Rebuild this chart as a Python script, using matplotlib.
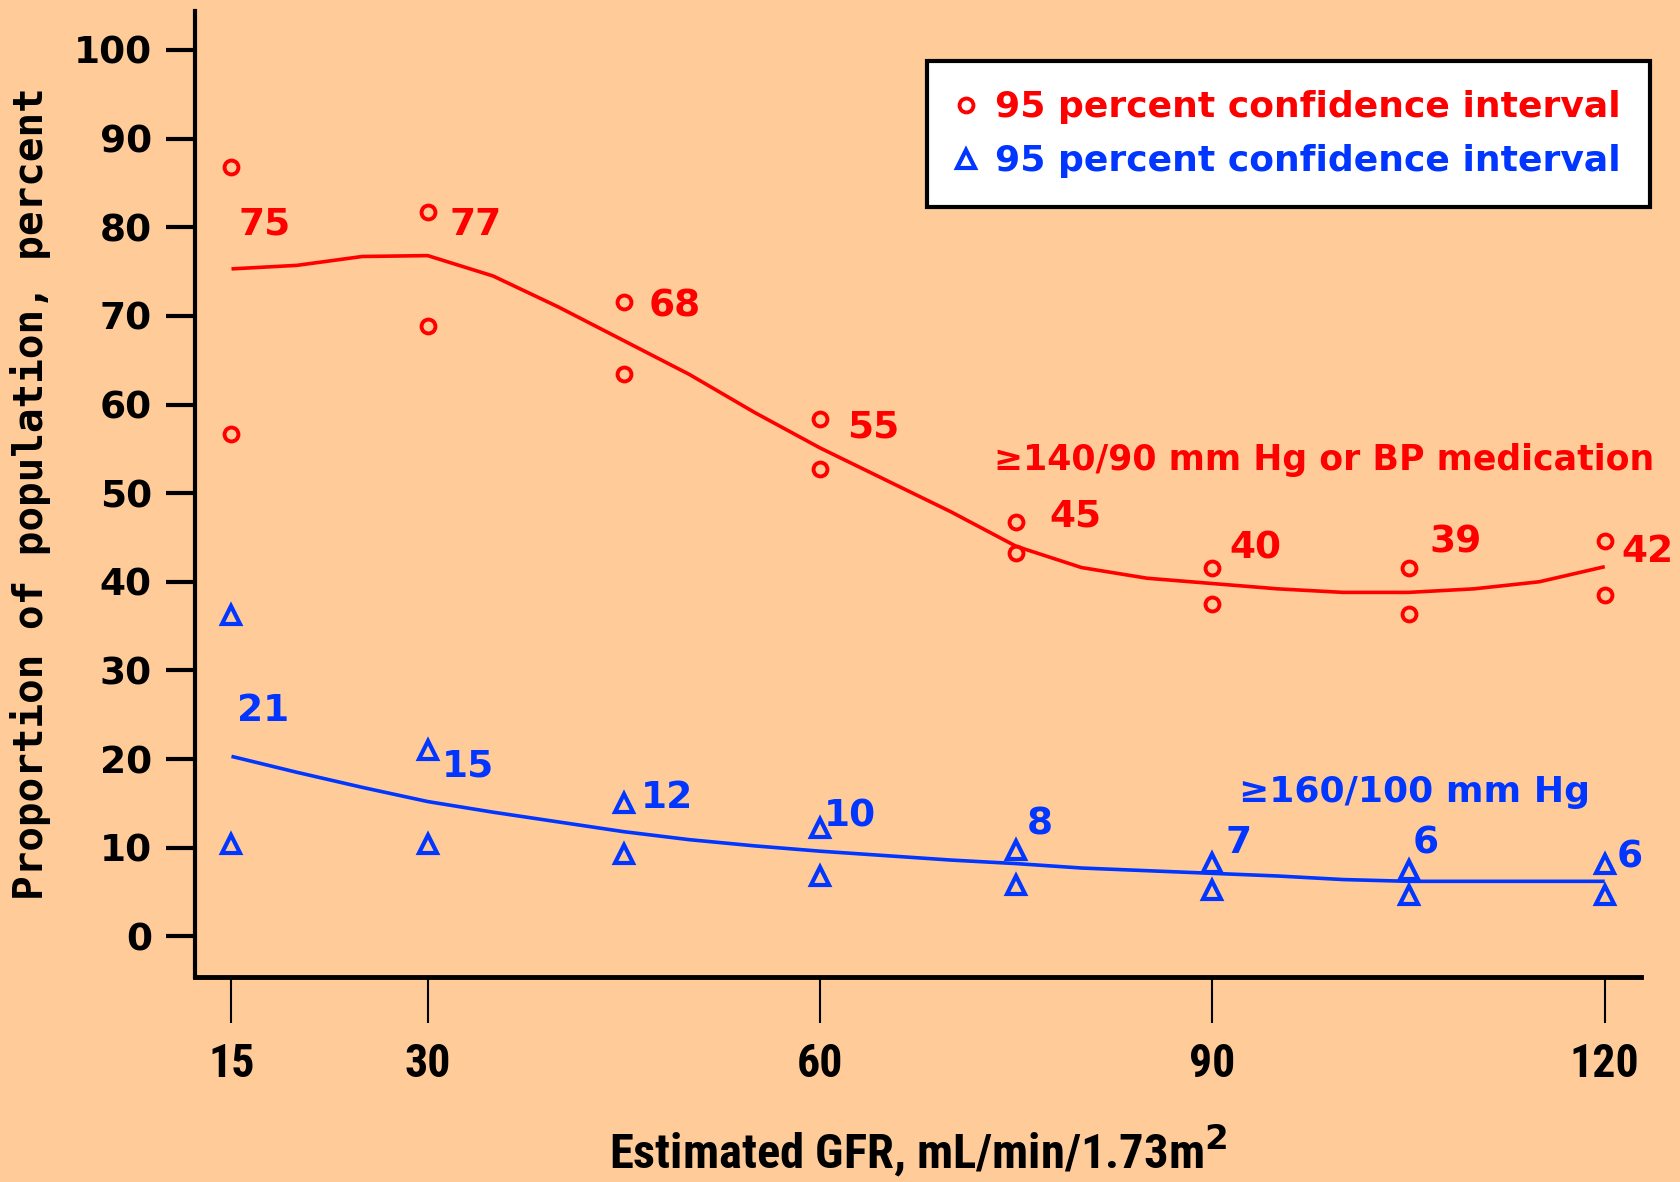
import matplotlib

matplotlib.use("Agg")
import matplotlib.pyplot as plt
from matplotlib.lines import Line2D

# eGFR groups (mL/min/1.73m2)
gfr = [15, 30, 45, 60, 75, 90, 105, 120]

# >=140/90 mm Hg or BP medication: point estimate and 95% CI
htn_pct = [75, 77, 68, 55, 45, 40, 39, 42]
htn_upper = [86.8, 81.7, 71.6, 58.4, 46.7, 41.6, 41.6, 44.6]
htn_lower = [56.7, 68.9, 63.4, 52.7, 43.2, 37.5, 36.4, 38.5]

# >=160/100 mm Hg: point estimate and 95% CI
sev_pct = [21, 15, 12, 10, 8, 7, 6, 6]
sev_upper = [36.3, 21.0, 15.0, 12.2, 9.7, 8.3, 7.5, 8.2]
sev_lower = [10.4, 10.4, 9.3, 6.8, 5.8, 5.2, 4.7, 4.7]

# smoothed trend curves
trend_gfr = [15, 20, 25, 30, 35, 40, 45, 50, 55, 60, 65,
             70, 75, 80, 85, 90, 95, 100, 105, 110, 115, 120]
htn_trend = [75.3, 75.7, 76.7, 76.8, 74.5, 71.0, 67.2, 63.4, 59.1, 55.1, 51.5,
             47.9, 44.0, 41.6, 40.4, 39.8, 39.2, 38.8, 38.8, 39.2, 40.0, 41.7]
sev_trend = [20.3, 18.5, 16.8, 15.2, 14.0, 12.9, 11.8, 10.9, 10.2, 9.6, 9.1,
             8.6, 8.2, 7.7, 7.4, 7.1, 6.8, 6.4, 6.2, 6.2, 6.2, 6.2]

xticks = [15, 30, 60, 90, 120]
yticks = list(range(0, 101, 10))

# where the value labels sit (data coords)
htn_label_xy = [(17.5, 80.3), (33.7, 80.3), (48.9, 71.1), (64.1, 57.4),
                (79.5, 47.4), (93.3, 43.8), (108.6, 44.4), (123.3, 43.4)]
sev_label_xy = [(17.4, 25.4), (33.1, 19.2), (48.3, 15.6), (62.3, 13.5),
                (76.8, 12.6), (92.0, 10.5), (106.3, 10.5), (121.9, 8.9)]

BG = "#FFCB99"
RED = "#FF0000"
BLUE = "#0036FF"
NARROW = ["Roboto Condensed", "Liberation Sans Narrow", "Roboto", "DejaVu Sans"]

plt.rcParams["font.family"] = ["DejaVu Sans"]
plt.rcParams["font.weight"] = "bold"

fig = plt.figure(figsize=(16.8, 11.82), dpi=100, facecolor=BG)
ax = fig.add_axes([0.116, 0.1734, 0.861, 0.8173], facecolor=BG)
ax.set_xlim(12.2, 122.8)
ax.set_ylim(-4.6, 104.4)

# trend lines
ax.plot(trend_gfr, htn_trend, color=RED, lw=2.6, solid_capstyle="butt")
ax.plot(trend_gfr, sev_trend, color=BLUE, lw=2.6, solid_capstyle="butt")

# confidence limits
for ys in (htn_upper, htn_lower):
    ax.plot(gfr, ys, ls="none", marker="o", ms=10, mfc="none", mec=RED, mew=2.8,
            clip_on=False)
for ys in (sev_upper, sev_lower):
    ax.plot(gfr, ys, ls="none", marker="^", ms=13, mfc="none", mec=BLUE, mew=3,
            clip_on=False)

for v, (lx, ly) in zip(htn_pct, htn_label_xy):
    ax.text(lx, ly, str(v), color=RED, fontsize=27, fontweight="bold",
            ha="center", va="center", clip_on=False)
for v, (lx, ly) in zip(sev_pct, sev_label_xy):
    ax.text(lx, ly, str(v), color=BLUE, fontsize=27, fontweight="bold",
            ha="center", va="center", clip_on=False)

ax.text(73.3, 53.7, "\u2265140/90 mm Hg or BP medication", color=RED,
        fontsize=25, fontweight="bold", ha="left", va="center")
ax.text(92.0, 16.3, "\u2265160/100 mm Hg", color=BLUE,
        fontsize=26, fontweight="bold", ha="left", va="center")

# axes styling
for side in ("top", "right"):
    ax.spines[side].set_visible(False)
ax.spines["left"].set_linewidth(3)
ax.spines["bottom"].set_linewidth(3.5)

ax.set_yticks(yticks)
ax.set_yticklabels([str(t) for t in yticks], fontsize=27, fontweight="bold")
ax.tick_params(axis="y", direction="out", length=21, width=3, pad=10)

ax.set_xticks(xticks)
ax.set_xticklabels([str(t) for t in xticks], fontsize=33, family=NARROW,
                   fontweight="bold")
ax.tick_params(axis="x", direction="out", length=33, width=1.5, pad=14)

ax.set_xlabel("Estimated GFR, mL/min/1.73m$^2$", fontsize=35, family=NARROW,
              fontweight="bold", labelpad=26)
ax.set_ylabel("Proportion of population, percent", fontsize=29.5,
              family=["DejaVu Sans Mono"], fontweight="bold", labelpad=16)

handles = [
    Line2D([], [], ls="none", marker="o", ms=10, mfc="none", mec=RED, mew=2.8),
    Line2D([], [], ls="none", marker="^", ms=13, mfc="none", mec=BLUE, mew=3),
]
leg = ax.legend(handles, ["95 percent confidence interval"] * 2,
                loc="upper right", bbox_to_anchor=(0.982, 0.948),
                bbox_transform=fig.transFigure, fancybox=False, framealpha=1,
                facecolor="white", edgecolor="black", labelcolor=[RED, BLUE],
                prop={"size": 26, "weight": "bold"}, handlelength=0.6,
                handletextpad=0.5, borderpad=0.8, labelspacing=0.55,
                borderaxespad=0)
leg.get_frame().set_linewidth(3)

fig.savefig("out.png", dpi=100, facecolor=BG)
